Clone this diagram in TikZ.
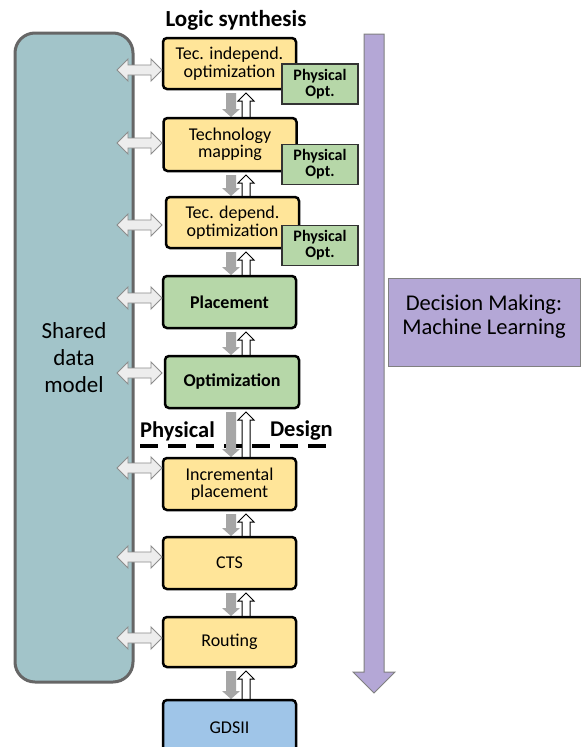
\documentclass[tikz,border=0pt]{standalone}
\usepackage{fontspec}
\setmainfont{Carlito}
\begin{document}
\begin{tikzpicture}[x=1pt,y=-1pt,
  box/.style={draw=black,line width=2.5pt,rounded corners=4pt,minimum width=133pt,minimum height=52pt,align=center,font=\fontsize{18}{17.5}\selectfont,inner sep=1pt},
  ybox/.style={box,fill=boxyellow},
  gbox/.style={box,fill=boxgreen,font=\fontsize{18}{17.5}\selectfont\bfseries},
  bbox/.style={box,fill=boxblue},
  popt/.style={draw=black!80,line width=1.2pt,fill=boxgreen,minimum width=76pt,minimum height=40pt,align=center,font=\fontsize{16}{16}\selectfont\bfseries,inner sep=1pt},
  harrow/.style={fill=arrlight,draw=black!45,line width=0.9pt},
  garrow/.style={fill=black!35},
  warrow/.style={fill=white,draw=black,line width=1pt,line join=miter},
]
\definecolor{boxyellow}{HTML}{FFE599}
\definecolor{boxgreen}{HTML}{B6D7A8}
\definecolor{boxblue}{HTML}{9FC5E8}
\definecolor{sharedfill}{HTML}{A2C4C9}
\definecolor{purplefill}{HTML}{B4A7D6}
\definecolor{arrlight}{HTML}{EDEDED}
\newcommand\harr[1]{\draw[harrow] (117,#1) -- (128,#1-11) -- (128,#1-5) -- (151,#1-5) -- (151,#1-11) -- (162,#1) -- (151,#1+11) -- (151,#1+5) -- (128,#1+5) -- (128,#1+11) -- cycle;}
\newcommand\vpair[2]{%
  \fill[garrow] (226,#1+4) -- (236,#1+4) -- (236,#2-9) -- (240,#2-9) -- (231,#2-1) -- (222,#2-9) -- (226,#2-9) -- cycle;
  \draw[warrow] (242,#2) -- (242,#1+12) -- (238,#1+12) -- (246,#1+4) -- (254,#1+12) -- (250,#1+12) -- (250,#2) -- cycle;}
\clip (0,0) rectangle (582,747);
\useasboundingbox (0,0) rectangle (582,747);
\fill[white] (0,0) rectangle (582,747);

% shared data model
\node[draw=black!60,line width=3pt,fill=sharedfill,rounded corners=20pt,minimum width=118pt,minimum height=649pt,align=center,font=\fontsize{23}{27}\selectfont] (shared) at (74,357.5) {Shared\\data\\model};

% decision making
\draw[fill=purplefill,draw=black!50,line width=1pt] (364,34) -- (384,34) -- (384,672) -- (395,672) -- (374,693) -- (353,672) -- (364,672) -- cycle;
\node[draw=black!50,line width=1pt,fill=purplefill,minimum width=192pt,minimum height=88pt,align=center,text depth=15pt,font=\fontsize{22.5}{24}\selectfont] (ml) at (484,322) {Decision Making:\\Machine Learning};

% headings
\node[font=\fontsize{23}{24}\selectfont\bfseries] (ls) at (236,20) {Logic synthesis};

% physical design divider
\draw[line width=3.3pt,dash pattern=on 18pt off 10pt] (140,446) -- (334,446);
\node[font=\fontsize{22.5}{24}\selectfont\bfseries,anchor=south west,inner sep=0pt] (pd1) at (140,441) {Physical};
\node[font=\fontsize{22.5}{24}\selectfont\bfseries,anchor=south east,inner sep=0pt] (pd2) at (333,441) {Design};

% vertical arrows
\vpair{89}{118}
\vpair{171}{197}
\vpair{248}{276}
\vpair{328}{356}
\vpair{408}{458}
\vpair{510}{537}
\vpair{589}{617}
\vpair{667}{700}

% flow boxes
\node[ybox,minimum height=51pt] (b1) at (229.5,63.5) {Tec. independ.\\optimization};
\node[ybox,minimum height=53pt] (b2) at (230,144.5) {Technology\\mapping};
\node[ybox,minimum height=51pt] (b3) at (232.5,222.5) {Tec. depend.\\optimization};
\node[gbox] (b4) at (229.5,302) {Placement};
\node[gbox,minimum width=134pt] (b5) at (232,382) {Optimization};
\node[ybox] (b6) at (229.5,484) {Incremental\\placement};
\node[ybox] (b7) at (229.5,563) {CTS};
\node[ybox,minimum height=50pt] (b8) at (229.5,642) {Routing};
\node[bbox,minimum height=56pt] (b9) at (229.5,728) {GDSII};

% physical opt boxes
\node[popt] (p1) at (320,84) {Physical\\Opt.};
\node[popt] (p2) at (320,164.5) {Physical\\Opt.};
\node[popt] (p3) at (320,245.5) {Physical\\Opt.};

% shared data arrows
\harr{70}
\harr{143}
\harr{225}
\harr{298}
\harr{373}
\harr{468}
\harr{557}
\harr{638}
\end{tikzpicture}
\end{document}
